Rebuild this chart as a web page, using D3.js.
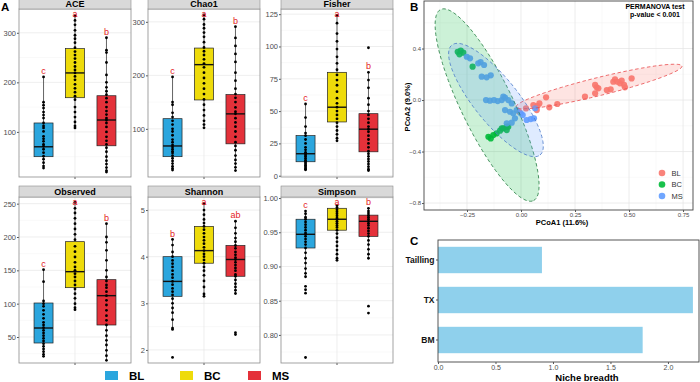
<!DOCTYPE html>
<html>
<head>
<meta charset="utf-8">
<script src="https://cdn.jsdelivr.net/npm/d3@7"></script>
<style>
  body { margin: 0; background: #fff; }
  svg { font-family: "Liberation Sans", Arial, sans-serif; display: block; }
</style>
</head>
<body>
<div id="chart"></div>
<script>
// ---- data: panel A (alpha diversity) ----
const groups = ["BL", "BC", "MS"];
const boxFill = ["#2ba6de", "#eedb0a", "#e4313a"];

const metricNames = ["ACE", "Chao1", "Fisher", "Observed", "Shannon", "Simpson"];
const metricDomains = [[9, 348], [10, 324], [-1, 129], [11, 260], [1.72, 5.28], [0.759, 1.0015]];
const metricTicks = [
  [100, 200, 300], [100, 200, 300], [0, 25, 50, 75, 100, 125],
  [50, 100, 150, 200, 250], [2, 3, 4, 5], [0.80, 0.85, 0.90, 0.95, 1.00]
];

// lo whisker, q1, median, q3, hi whisker  (per group BL, BC, MS)
const aceStats = [[27, 50, 70, 118, 211], [108, 169, 219, 268, 334], [19, 72, 124, 173, 290]];
const chao1Stats = [[23, 48, 68, 119, 197], [102, 154, 220, 251, 313], [22, 72, 128, 164, 291]];
const fisherStats = [[4.6, 10.8, 17, 31, 55.5], [27, 41.6, 53, 80, 124], [4, 18.5, 36, 48, 80]];
const observedStats = [[21, 41, 63.5, 101, 151], [91, 124, 148, 193, 252], [15, 68, 112, 136, 220]];
const shannonStats = [[2.44, 3.15, 3.47, 4.0, 4.37], [3.15, 3.86, 4.13, 4.65, 5.14], [3.21, 3.58, 3.94, 4.24, 4.76]];
const simpsonStats = [[0.885, 0.927, 0.947, 0.969, 0.981], [0.909, 0.953, 0.969, 0.985, 0.989], [0.912, 0.944, 0.966, 0.975, 0.985]];

const acePoints = [
  [211, 160, 154, 148, 140, 134, 128, 118, 112, 108, 101, 91, 86, 81, 75, 71, 65, 58, 51, 45, 38, 31, 27],
  [334, 325, 316, 305, 295, 288, 280, 270, 262, 255, 248, 240, 232, 225, 219, 212, 205, 196, 188, 180, 172, 165, 150, 140, 130, 120, 112, 108],
  [290, 265, 260, 240, 215, 200, 190, 182, 175, 168, 160, 150, 142, 135, 128, 124, 118, 110, 100, 90, 82, 75, 68, 60, 50, 42, 35, 28, 22, 19]
];
const chao1Points = [
  [197, 150, 145, 130, 122, 115, 108, 100, 95, 88, 80, 75, 70, 66, 62, 58, 55, 50, 45, 40, 35, 30, 26, 23],
  [313, 305, 295, 288, 280, 272, 262, 252, 245, 238, 230, 222, 215, 205, 195, 185, 175, 165, 155, 145, 135, 125, 115, 108, 102],
  [291, 270, 255, 240, 225, 205, 190, 175, 165, 158, 150, 140, 132, 128, 120, 112, 104, 95, 85, 75, 68, 60, 50, 42, 35, 28, 22]
];
const fisherPoints = [
  [55.5, 45, 38, 33, 31, 28, 25, 22, 20, 18, 17, 16, 15, 13.5, 12, 11, 10, 9, 8, 7, 6, 5, 4.6],
  [124, 118, 110, 104, 98, 92, 87, 82, 78, 74, 70, 65, 60, 56, 53, 50, 47, 44, 41, 38, 35, 32, 29, 27],
  [99, 80, 74, 68, 60, 55, 50, 47, 44, 41, 38, 36, 34, 31, 28, 25, 22, 19, 17, 15, 13, 11, 9, 7, 5, 4]
];
const observedPoints = [
  [151, 133, 104, 100, 96, 90, 84, 78, 72, 68, 64, 60, 56, 52, 48, 44, 40, 36, 32, 28, 24, 21],
  [252, 243, 236, 228, 220, 212, 204, 196, 186, 178, 170, 162, 155, 150, 145, 140, 134, 128, 122, 115, 108, 100, 94, 91],
  [220, 200, 192, 180, 165, 150, 140, 134, 128, 124, 118, 112, 105, 98, 90, 82, 75, 68, 60, 52, 45, 38, 30, 22, 15]
];
const shannonPoints = [
  [4.37, 4.25, 4.1, 4.0, 3.92, 3.85, 3.78, 3.7, 3.62, 3.55, 3.47, 3.4, 3.32, 3.25, 3.18, 3.1, 3.0, 2.9, 2.8, 2.65, 2.47, 2.44, 1.84],
  [5.14, 5.0, 4.9, 4.8, 4.72, 4.65, 4.58, 4.5, 4.42, 4.35, 4.28, 4.2, 4.13, 4.06, 4.0, 3.93, 3.86, 3.78, 3.7, 3.6, 3.48, 3.35, 3.2, 3.15],
  [4.76, 4.62, 4.5, 4.4, 4.32, 4.24, 4.18, 4.1, 4.04, 3.98, 3.94, 3.88, 3.82, 3.76, 3.7, 3.62, 3.58, 3.5, 3.42, 3.35, 3.28, 3.21, 2.37, 2.33]
];
const simpsonPoints = [
  [0.981, 0.977, 0.972, 0.969, 0.965, 0.961, 0.957, 0.953, 0.949, 0.947, 0.944, 0.94, 0.936, 0.932, 0.927, 0.92, 0.912, 0.905, 0.897, 0.89, 0.885, 0.871, 0.866, 0.861, 0.767],
  [0.989, 0.986, 0.983, 0.98, 0.977, 0.974, 0.971, 0.969, 0.966, 0.963, 0.96, 0.957, 0.953, 0.948, 0.942, 0.936, 0.93, 0.924, 0.918, 0.912, 0.909],
  [0.985, 0.981, 0.978, 0.975, 0.972, 0.969, 0.966, 0.963, 0.96, 0.956, 0.952, 0.948, 0.944, 0.938, 0.932, 0.925, 0.918, 0.912, 0.842, 0.832]
];

const aceLetters = ["c", "a", "b"];
const chao1Letters = ["c", "a", "b"];
const fisherLetters = ["c", "a", "b"];
const observedLetters = ["c", "a", "b"];
const shannonLetters = ["b", "a", "ab"];
const simpsonLetters = ["c", "a", "b"];

// ---- data: panel B (PCoA) ----
const pcoaGroups = ["BL", "BC", "MS"];
const pcoaColors = ["#f8766d", "#00ba38", "#619cff"];
const pcoaStroke = ["#e8474a", "#1f7a3e", "#4a78c8"];
const blX = [-0.008, 0.023, 0.057, 0.076, 0.085, 0.116, 0.131, 0.168, 0.296, 0.343, 0.350, 0.358, 0.343, 0.397, 0.415, 0.427, 0.435, 0.446, 0.458, 0.466, 0.477, 0.481, 0.512, 0.073];
const blY = [-0.091, -0.065, -0.039, -0.047, -0.026, 0.021, -0.057, -0.031, 0.026, 0.052, 0.099, 0.091, 0.117, 0.078, 0.083, 0.142, 0.161, 0.142, 0.130, 0.150, 0.117, 0.099, 0.168, -0.078];
const bcX = [-0.293, -0.279, -0.267, -0.285, -0.224, -0.151, -0.140, -0.128, -0.113, -0.097, -0.082, -0.066, -0.089, -0.066, -0.059];
const bcY = [0.375, 0.383, 0.368, 0.355, 0.259, -0.285, -0.298, -0.272, -0.259, -0.238, -0.220, -0.207, -0.220, -0.233, -0.207];
const msX = [-0.251, -0.236, -0.198, -0.187, -0.171, -0.182, -0.159, -0.140, -0.162, -0.144, -0.125, -0.108, -0.089, -0.074, -0.082, -0.059, -0.043, -0.074, -0.051, -0.036, -0.020, -0.028, -0.001, 0.026, 0.045, 0.060, 0.065, 0.008, -0.066, -0.043];
const msY = [0.336, 0.324, 0.285, 0.295, 0.272, 0.181, 0.176, 0.192, 0.0, -0.005, 0.0, -0.008, 0.0, 0.018, 0.026, 0.0, -0.026, -0.078, -0.091, -0.103, -0.078, -0.142, -0.103, -0.155, -0.148, -0.142, -0.064, -0.117, -0.181, -0.176];
// 95% ellipses: centre and two half-axis vectors, in PCoA units (BL, BC, MS)
const ellCx = [0.361, -0.157, -0.116];
const ellCy = [0.105, -0.039, 0.0];
const ellAx = [0.384, 0.215, 0.204];
const ellAy = [0.159, -0.742, -0.427];
const ellBx = [0.010, 0.108, 0.080];
const ellBy = [-0.068, 0.0885, 0.107];
const pcoaXTicks = [-0.25, 0, 0.25, 0.5, 0.75];
const pcoaYTicks = [-0.8, -0.4, 0.0, 0.4];

// ---- data: panel C (niche breadth) ----
const nicheSites = ["Tailling", "TX", "BM"];
const nicheValues = [0.904, 2.217, 1.78];
const nicheTicks = [0, 0.5, 1.0, 1.5, 2.0];

// ---------------------------------------------------------------
const W = 700, H = 382;
const svg = d3.select("#chart").append("svg").attr("width", W).attr("height", H);

const statsAll = [aceStats, chao1Stats, fisherStats, observedStats, shannonStats, simpsonStats];
const pointsAll = [acePoints, chao1Points, fisherPoints, observedPoints, shannonPoints, simpsonPoints];
const lettersAll = [aceLetters, chao1Letters, fisherLetters, observedLetters, shannonLetters, simpsonLetters];

const colLeft = [19, 148, 281], panelW = 112;
const rowTop = [9, 197], rowBottom = [177, 363], stripH = 9;

metricNames.forEach((name, i) => {
  const col = i % 3, row = Math.floor(i / 3);
  const left = colLeft[col], top = rowTop[row], bottom = rowBottom[row];
  const y = d3.scaleLinear().domain(metricDomains[i]).range([bottom, top]);
  const x = d3.scalePoint().domain(groups).range([left, left + panelW]).padding(0.78);
  const g = svg.append("g");
  const ticks = metricTicks[i];
  const step = ticks[1] - ticks[0];
  const minor = [ticks[0] - step / 2].concat(ticks.map(t => t + step / 2))
    .filter(v => v > metricDomains[i][0] && v < metricDomains[i][1]);
  const fmt = name === "Simpson" ? d3.format(".2f") : d3.format("d");

  g.append("rect").attr("x", left).attr("y", top).attr("width", panelW).attr("height", bottom - top).attr("fill", "#fff");
  g.selectAll(".mn").data(minor).join("line")
    .attr("x1", left).attr("x2", left + panelW).attr("y1", d => y(d)).attr("y2", d => y(d))
    .attr("stroke", "#f2f2f2").attr("stroke-width", 0.5);
  g.selectAll(".mj").data(ticks).join("line")
    .attr("x1", left).attr("x2", left + panelW).attr("y1", d => y(d)).attr("y2", d => y(d))
    .attr("stroke", "#e6e6e6").attr("stroke-width", 0.7);
  g.append("line").attr("x1", left + panelW / 2).attr("x2", left + panelW / 2)
    .attr("y1", top).attr("y2", bottom).attr("stroke", "#e6e6e6").attr("stroke-width", 0.7);

  // y axis
  const ax = g.append("g").attr("transform", `translate(${left},0)`)
    .call(d3.axisLeft(y).tickValues(ticks).tickFormat(fmt).tickSize(2).tickPadding(1));
  ax.select(".domain").remove();
  ax.selectAll("line").attr("stroke", "#555");
  ax.selectAll("text").attr("fill", "#4d4d4d").style("font-size", "7.5px");
  g.append("line").attr("x1", left + panelW / 2).attr("x2", left + panelW / 2)
    .attr("y1", bottom).attr("y2", bottom + 2).attr("stroke", "#555");

  const st = statsAll[i];
  groups.forEach((gr, j) => {
    const cx = x(gr), s = st[j], bw = 19;
    g.append("line").attr("x1", cx).attr("x2", cx).attr("y1", y(s[0])).attr("y2", y(s[4]))
      .attr("stroke", "#222").attr("stroke-width", 0.7);
    g.append("rect").attr("x", cx - bw / 2).attr("width", bw)
      .attr("y", y(s[3])).attr("height", y(s[1]) - y(s[3]))
      .attr("fill", boxFill[j]).attr("stroke", "#222").attr("stroke-width", 0.7);
    g.append("line").attr("x1", cx - bw / 2).attr("x2", cx + bw / 2)
      .attr("y1", y(s[2])).attr("y2", y(s[2])).attr("stroke", "#111").attr("stroke-width", 1.4);
    g.selectAll(null).data(pointsAll[i][j]).join("circle")
      .attr("cx", cx).attr("cy", d => y(d)).attr("r", 1.4).attr("fill", "#000");
    g.append("text").attr("x", cx).attr("y", Math.max(y(s[4]) - 6, top + 5))
      .attr("dy", "0.35em").attr("text-anchor", "middle")
      .attr("fill", "#e41a1c").style("font-size", "9px").text(lettersAll[i][j]);
  });

  g.append("rect").attr("x", left).attr("y", top).attr("width", panelW).attr("height", bottom - top)
    .attr("fill", "none").attr("stroke", "#8c8c8c").attr("stroke-width", 0.8);
  g.append("rect").attr("x", left).attr("y", top - stripH - 2).attr("width", panelW).attr("height", stripH + 2)
    .attr("fill", "#d9d9d9").attr("stroke", "#8c8c8c").attr("stroke-width", 0.6);
  g.append("text").attr("x", left + panelW / 2).attr("y", top - 2)
    .attr("text-anchor", "middle").attr("font-weight", "bold").style("font-size", "9px").text(name);
});

svg.append("text").attr("x", 1).attr("y", 11).attr("font-weight", "bold").style("font-size", "11.5px").text("A");

// bottom legend for panel A
const legX = [105, 180, 248];
groups.forEach((gr, j) => {
  svg.append("rect").attr("x", legX[j]).attr("y", 371).attr("width", 13).attr("height", 9).attr("fill", boxFill[j]);
  svg.append("text").attr("x", legX[j] + 24).attr("y", 380).attr("font-weight", "bold")
    .style("font-size", "11.5px").text(gr);
});

// ---- panel B ----
const bL = 424, bR = 693, bT = 1, bB = 210;
const px = d3.scaleLinear().domain([-0.449, 0.796]).range([bL, bR]);
const py = d3.scaleLinear().domain([-0.854, 0.769]).range([bB, bT]);
const gb = svg.append("g");
gb.append("rect").attr("x", bL).attr("y", bT).attr("width", bR - bL).attr("height", bB - bT).attr("fill", "#fff");
const xMinor = pcoaXTicks.map(t => t - 0.125).concat([0.875]).filter(v => v > -0.449 && v < 0.796);
const yMinor = pcoaYTicks.map(t => t + 0.2).concat([-1.0]).filter(v => v > -0.854 && v < 0.769);
gb.selectAll(".xm").data(xMinor).join("line").attr("x1", d => px(d)).attr("x2", d => px(d))
  .attr("y1", bT).attr("y2", bB).attr("stroke", "#f2f2f2").attr("stroke-width", 0.5);
gb.selectAll(".ym").data(yMinor).join("line").attr("y1", d => py(d)).attr("y2", d => py(d))
  .attr("x1", bL).attr("x2", bR).attr("stroke", "#f2f2f2").attr("stroke-width", 0.5);
gb.selectAll(".xg").data(pcoaXTicks).join("line").attr("x1", d => px(d)).attr("x2", d => px(d))
  .attr("y1", bT).attr("y2", bB).attr("stroke", "#e4e4e4").attr("stroke-width", 0.7);
gb.selectAll(".yg").data(pcoaYTicks).join("line").attr("y1", d => py(d)).attr("y2", d => py(d))
  .attr("x1", bL).attr("x2", bR).attr("stroke", "#e4e4e4").attr("stroke-width", 0.7);

const pcoaX = [blX, bcX, msX], pcoaY = [blY, bcY, msY];
pcoaGroups.forEach((gr, k) => {
  gb.selectAll(null).data(pcoaX[k].map((v, m) => [v, pcoaY[k][m]])).join("circle")
    .attr("cx", d => px(d[0])).attr("cy", d => py(d[1])).attr("r", 3.1)
    .attr("fill", pcoaColors[k]).attr("fill-opacity", 0.9);
});
const ellLine = d3.line().x(d => px(d[0])).y(d => py(d[1]));
pcoaGroups.forEach((gr, k) => {
  const pts = d3.range(0, 101).map(s => {
    const t = s / 100 * 2 * Math.PI;
    return [ellCx[k] + ellAx[k] * Math.cos(t) + ellBx[k] * Math.sin(t),
            ellCy[k] + ellAy[k] * Math.cos(t) + ellBy[k] * Math.sin(t)];
  });
  gb.append("path").attr("d", ellLine(pts) + "Z")
    .attr("fill", pcoaColors[k]).attr("fill-opacity", 0.2)
    .attr("stroke", pcoaStroke[k]).attr("stroke-width", 0.8).attr("stroke-dasharray", "3.5,2.5");
});
gb.append("rect").attr("x", bL).attr("y", bT).attr("width", bR - bL).attr("height", bB - bT)
  .attr("fill", "none").attr("stroke", "#444").attr("stroke-width", 0.9);

const bxAx = gb.append("g").attr("transform", `translate(0,${bB})`)
  .call(d3.axisBottom(px).tickValues(pcoaXTicks).tickFormat(d3.format(".2f")).tickSize(2).tickPadding(1));
const byAx = gb.append("g").attr("transform", `translate(${bL},0)`)
  .call(d3.axisLeft(py).tickValues(pcoaYTicks).tickFormat(d3.format(".1f")).tickSize(2).tickPadding(1));
[bxAx, byAx].forEach(a => {
  a.select(".domain").remove();
  a.selectAll("line").attr("stroke", "#555");
  a.selectAll("text").attr("fill", "#4d4d4d").style("font-size", "6px");
});
gb.append("text").attr("x", 562).attr("y", 225).attr("text-anchor", "middle")
  .attr("font-weight", "bold").style("font-size", "7.5px").text("PCoA1 (11.6%)");
gb.append("text").attr("transform", "translate(409.5,107) rotate(-90)").attr("text-anchor", "middle")
  .attr("font-weight", "bold").style("font-size", "7.5px").text("PCoA2 (9.0%)");
gb.append("text").attr("x", 655).attr("y", 8.5).attr("text-anchor", "middle")
  .attr("font-weight", "bold").style("font-size", "7px").text("PERMANOVA test");
gb.append("text").attr("x", 655).attr("y", 17).attr("text-anchor", "middle")
  .attr("font-weight", "bold").style("font-size", "7px").text("p-value < 0.001");
pcoaGroups.forEach((gr, k) => {
  gb.append("circle").attr("cx", 662).attr("cy", 173 + k * 11.5).attr("r", 3.3)
    .attr("fill", pcoaColors[k]).attr("fill-opacity", 0.9);
  gb.append("text").attr("x", 671.5).attr("y", 173 + k * 11.5).attr("dy", "0.35em")
    .attr("fill", "#333").style("font-size", "7.5px").text(gr);
});
svg.append("text").attr("x", 410).attr("y", 11).attr("font-weight", "bold").style("font-size", "11.5px").text("B");

// ---- panel C ----
const cL = 438, cR = 699, cT = 240, cB = 362;
const cx = d3.scaleLinear().domain([0, 2.27]).range([cL, cR]);
const cy = d3.scaleBand().domain(nicheSites).range([cT, cB - 2]).paddingInner(0.34).paddingOuter(0.17);
const gc = svg.append("g");
gc.selectAll("rect.bar").data(nicheSites).join("rect").attr("class", "bar")
  .attr("x", cx(0)).attr("y", d => cy(d)).attr("height", cy.bandwidth())
  .attr("width", (d, k) => cx(nicheValues[k]) - cx(0)).attr("fill", "#8fd0ec");
gc.append("rect").attr("x", cL).attr("y", cT).attr("width", cR - cL).attr("height", cB - cT)
  .attr("fill", "none").attr("stroke", "#444").attr("stroke-width", 0.9);
const cxAx = gc.append("g").attr("transform", `translate(0,${cB})`)
  .call(d3.axisBottom(cx).tickValues(nicheTicks).tickFormat(d3.format(".1f")).tickSize(2).tickPadding(1));
cxAx.select(".domain").remove();
cxAx.selectAll("line").attr("stroke", "#555");
cxAx.selectAll("text").attr("fill", "#4d4d4d").style("font-size", "7px");
const cyAx = gc.append("g").attr("transform", `translate(${cL},0)`)
  .call(d3.axisLeft(cy).tickSize(2).tickPadding(1.5));
cyAx.select(".domain").remove();
cyAx.selectAll("line").attr("stroke", "#555");
cyAx.selectAll("text").attr("fill", "#111").attr("font-weight", "bold").style("font-size", "8.5px");
gc.append("text").attr("x", 587).attr("y", 381).attr("text-anchor", "middle")
  .attr("font-weight", "bold").style("font-size", "9.5px").text("Niche breadth");
svg.append("text").attr("x", 410).attr("y", 245).attr("font-weight", "bold").style("font-size", "11.5px").text("C");
</script>
</body>
</html>
